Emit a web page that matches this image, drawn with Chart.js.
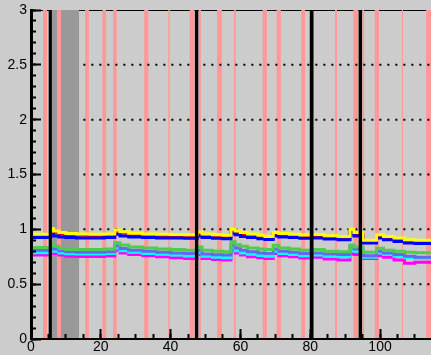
<!DOCTYPE html>
<html><head><meta charset="utf-8">
<script src="https://cdn.jsdelivr.net/npm/chart.js@4/dist/chart.umd.min.js"></script>
<style>html,body{margin:0;padding:0;background:#cccccc;overflow:hidden}</style>
</head><body>
<canvas id="c" width="431" height="355"></canvas>
<script>
// ---- data ----
const xMin = 0, xMax = 114.6, yMin = 0, yMax = 3;
const xTickLabels = [0, 20, 40, 60, 80, 100];
const yTickLabels = [0, 0.5, 1, 1.5, 2, 2.5, 3];
const guideLevels = [0.5, 1, 1.5, 2, 2.5];
const guideStart = 15;
const pinkBands = [[3.4,4.6],[7.4,8.6],[15.5,16.6],[20.4,21.6],[23.5,24.6],[32.4,33.7],[39.3,39.8],[45.4,46.9],[48.0,48.7],[53.3,54.7],[58.1,58.7],[66.3,67.6],[70.3,71.6],[77.4,78.6],[87.1,87.7],[92.3,93.8],[94.9,95.5],[98.4,99.7],[106.2,106.6],[113.2,114.6]];
const blackBands = [[5.0,6.0],[46.9,48.0],[79.8,81.0],[93.8,94.9]];
const grayBands = [[6.0,13.8]];
const stepX = [0,5.6,6.5,8,10,13,17,21,24,25.5,28,32,36,40,44,47.6,49,52,55,57.3,58.5,60,62,65,67,69.4,71,74,77,80.4,84,88,91.4,92.5,95.1,99,101,104,107,110,114.6];
const yellowVals = [0.955,1.005,0.985,0.97,0.962,0.958,0.955,0.958,0.995,0.978,0.965,0.958,0.955,0.952,0.95,0.975,0.958,0.95,0.945,1.0,0.985,0.97,0.958,0.945,0.935,0.97,0.962,0.955,0.948,0.952,0.942,0.935,1.0,0.97,0.9,0.95,0.935,0.92,0.905,0.9,0.9];
const redVals = [0.943,0.993,0.973,0.958,0.95,0.946,0.943,0.946,0.983,0.966,0.953,0.946,0.943,0.94,0.938,0.963,0.946,0.938,0.933,0.988,0.973,0.958,0.946,0.933,0.923,0.958,0.95,0.943,0.936,0.94,0.93,0.923,0.988,0.958,0.888,0.938,0.923,0.908,0.893,0.888,0.888];
const blueVals = [0.925,0.955,0.94,0.93,0.925,0.922,0.92,0.925,0.955,0.94,0.93,0.925,0.922,0.92,0.918,0.94,0.925,0.918,0.915,0.965,0.95,0.935,0.925,0.915,0.908,0.94,0.93,0.925,0.918,0.92,0.912,0.905,0.97,0.94,0.875,0.92,0.905,0.89,0.875,0.87,0.875];
const greenVals = [0.835,0.865,0.845,0.825,0.815,0.815,0.815,0.82,0.878,0.857,0.84,0.83,0.82,0.815,0.81,0.84,0.81,0.8,0.796,0.887,0.86,0.845,0.83,0.82,0.815,0.855,0.83,0.82,0.81,0.815,0.8,0.796,0.857,0.84,0.79,0.827,0.81,0.8,0.79,0.787,0.787];
const purpleVals = [0.81,0.84,0.82,0.805,0.795,0.79,0.79,0.795,0.85,0.825,0.81,0.8,0.79,0.785,0.78,0.81,0.775,0.768,0.765,0.857,0.83,0.81,0.795,0.785,0.78,0.82,0.8,0.79,0.78,0.785,0.775,0.77,0.85,0.82,0.76,0.8,0.785,0.77,0.755,0.745,0.745];
const cyanVals = [0.787,0.815,0.8,0.785,0.778,0.775,0.775,0.78,0.83,0.805,0.79,0.78,0.772,0.765,0.757,0.79,0.755,0.745,0.74,0.83,0.805,0.785,0.772,0.762,0.755,0.8,0.78,0.77,0.76,0.765,0.755,0.75,0.82,0.8,0.745,0.785,0.77,0.755,0.74,0.735,0.745];
const magentaVals = [0.766,0.795,0.78,0.765,0.755,0.752,0.752,0.757,0.81,0.785,0.77,0.76,0.75,0.742,0.734,0.77,0.735,0.725,0.72,0.81,0.785,0.765,0.75,0.74,0.733,0.78,0.76,0.75,0.738,0.745,0.73,0.72,0.78,0.77,0.735,0.76,0.745,0.72,0.69,0.7,0.705];

// ---- build datasets ----
const series = [
  {vals: yellowVals, color: '#ffff00'},
  {vals: blueVals, color: '#0000ff'},
  {vals: redVals, color: '#ff0000'},
  {vals: greenVals, color: '#4dcc4d'},
  {vals: purpleVals, color: '#6666ee'},
  {vals: cyanVals, color: '#00ffff'},
  {vals: magentaVals, color: '#ff00ff'}
];
function band(b, color) {
  return {data: [{x: b[0], y: yMax}, {x: b[1], y: yMax}], fill: 'origin', backgroundColor: color,
          borderWidth: 0, pointRadius: 0, tension: 0};
}
const datasets = [];
blackBands.forEach(b => datasets.push(band(b, '#000000')));
series.forEach(s => datasets.push({
  data: stepX.map((x, i) => ({x, y: s.vals[i]})), stepped: true, borderColor: s.color,
  borderWidth: 3, pointRadius: 0, fill: false
}));
guideLevels.forEach(v => datasets.push({
  data: [{x: guideStart, y: v}, {x: xMax, y: v}], borderColor: '#000', borderWidth: 2,
  borderDash: [2, 6], pointRadius: 0, fill: false
}));
pinkBands.forEach(b => datasets.push(band(b, '#ff9999')));
grayBands.forEach(b => datasets.push(band(b, '#999999')));
datasets.push({data: [{x: xMin, y: yMax}, {x: xMax, y: yMax}], borderColor: '#000', borderWidth: 2, pointRadius: 0, fill: false});

const yFont = {family: "'Liberation Sans', Arial, sans-serif", size: 14, lineHeight: 0.8};
const xFont = {family: "'Liberation Sans', Arial, sans-serif", size: 14, lineHeight: 1};
function tickAxis(pos, step, len, w) {
  return {type: 'linear', position: pos, min: pos === 'left' ? yMin : xMin, max: pos === 'left' ? yMax : xMax, weight: w,
    ticks: {stepSize: step, includeBounds: false, display: false},
    grid: {drawOnChartArea: false, drawTicks: true, tickLength: -len, tickColor: '#000', tickWidth: 2, z: 1},
    border: {display: false},
    afterFit: s => { if (pos === 'left') s.width = 0; else s.height = 0; }
  };
}
new Chart(document.getElementById('c'), {
  type: 'line',
  data: {datasets},
  options: {
    responsive: false, animation: false, devicePixelRatio: 1,
    layout: {padding: {top: 10, right: 0, left: 0, bottom: 0}},
    plugins: {legend: {display: false}, tooltip: {enabled: false}},
    scales: {
      x: {type: 'linear', position: 'bottom', min: xMin, max: xMax, weight: 10,
        ticks: {stepSize: 20, includeBounds: false, padding: 1, color: '#000', font: xFont, maxRotation: 0,
          callback: v => xTickLabels.includes(v) ? String(v) : ''},
        grid: {drawOnChartArea: false, drawTicks: false},
        border: {color: '#000', width: 2, z: 1},
        afterFit: s => { s.height = 16; }
      },
      xMajor: tickAxis('bottom', 20, 10, 5),
      xMinor: tickAxis('bottom', 5, 5, 0),
      y: {type: 'linear', position: 'left', min: yMin, max: yMax, weight: 10,
        ticks: {stepSize: 0.5, includeBounds: false, padding: 4, color: '#000', font: yFont,
          callback: v => { const t = yTickLabels.find(l => Math.abs(l - v) < 1e-6); return t === undefined ? '' : String(t); }},
        grid: {drawOnChartArea: false, drawTicks: false},
        border: {color: '#000', width: 3, z: 1},
        afterFit: s => { s.width = 31; }
      },
      yMajor: tickAxis('left', 0.5, 10, 5),
      yMinor: tickAxis('left', 0.1, 5, 0)
    }
  }
});
</script>
</body></html>
